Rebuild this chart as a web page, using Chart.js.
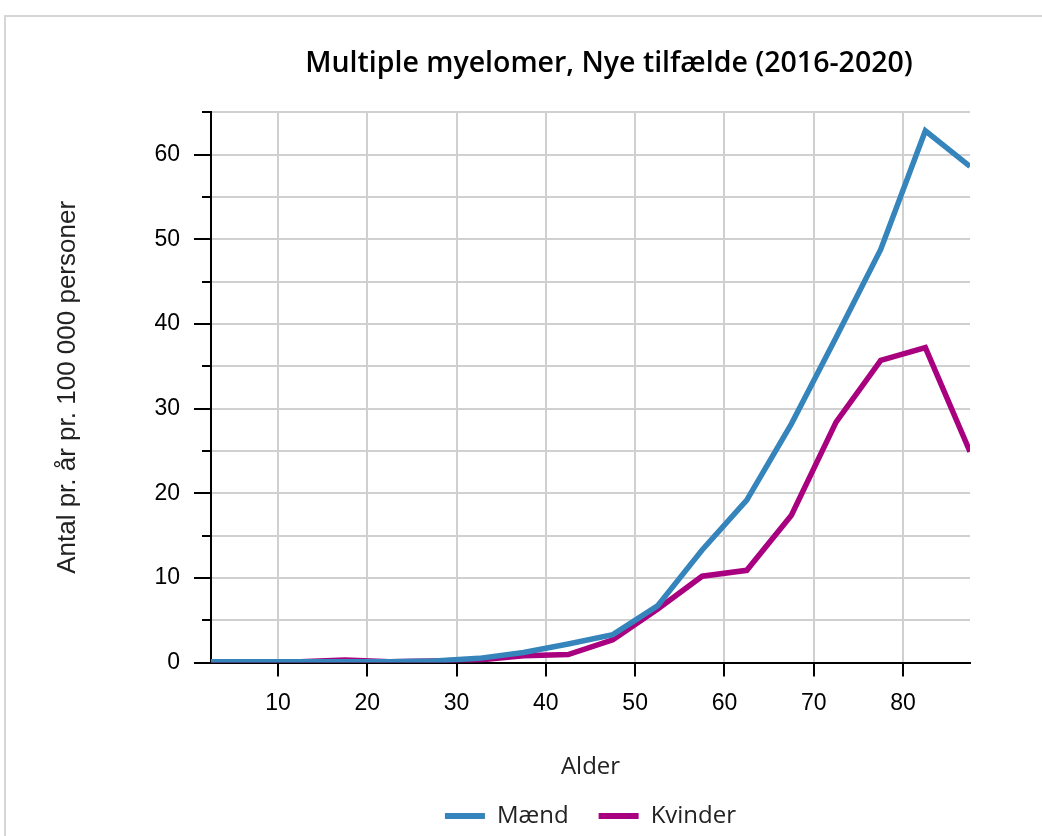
<!DOCTYPE html>
<html>
<head>
<meta charset="utf-8">
<script src="https://cdn.jsdelivr.net/npm/chart.js@4"></script>
<style>
  html, body { margin: 0; padding: 0; background: #fff; overflow: hidden; }
  #ramme {
    position: absolute; left: 4px; top: 15px;
    width: 1100px; height: 900px;
    border: 2px solid #d6d6d6;
  }
  #boks { position: absolute; left: 0; top: 0; width: 1036px; height: 821px; }
</style>
</head>
<body>
<div id="ramme">
  <div id="boks"><canvas id="telaGrafico"></canvas></div>
</div>
<script>
// Aldersgrupper (midtpunkt af 5-års grupper)
const alder = [2.5, 7.5, 12.5, 17.5, 22.5, 27.5, 32.5, 37.5, 42.5, 47.5, 52.5, 57.5, 62.5, 67.5, 72.5, 77.5, 82.5, 87.5];
// Antal pr. år pr. 100 000 personer
const maend = [0.1, 0.1, 0.1, 0.1, 0.1, 0.2, 0.5, 1.2, 2.2, 3.3, 6.7, 13.3, 19.2, 28.2, 38.4, 48.8, 62.8, 58.6];
const kvinder = [0.1, 0.1, 0.1, 0.3, 0.1, 0.2, 0.3, 0.8, 0.95, 2.7, 6.3, 10.2, 10.9, 17.4, 28.4, 35.7, 37.2, 24.9];
const xTicks = [10, 20, 30, 40, 50, 60, 70, 80];
const yTicks = [0, 10, 20, 30, 40, 50, 60];

const serier = [
    { navn: 'Mænd', data: maend, farve: '#3585bc' },
    { navn: 'Kvinder', data: kvinder, farve: '#a8007f' }
];

function punkter(vaerdier) {
    return alder.map(function (a, i) { return { x: a, y: vaerdier[i] }; });
}

const datasets = serier.map(function (s) {
    return {
        label: s.navn,
        data: punkter(s.data),
        borderColor: s.farve,
        backgroundColor: s.farve,
        borderWidth: 5.5,
        pointRadius: 0,
        tension: 0,
        clip: 0
    };
});

// flytter titlen lidt mod hoejre som i originalen
const titelPlugin = {
    id: 'titelPlugin',
    afterLayout: function (chart) {
        const t = chart.titleBlock;
        const midt = 603;
        const halv = (t.right - t.left) / 2;
        t.left = midt - halv;
        t.right = midt + halv;
    }
};

const config = {
    type: 'line',
    data: { datasets: datasets },
    plugins: [titelPlugin],
    options: {
        responsive: true,
        maintainAspectRatio: false,
        animation: false,
        layout: { padding: { left: 0, right: 72, top: 0, bottom: 0 } },
        plugins: {
            title: {
                display: true,
                text: 'Multiple myelomer, Nye tilfælde (2016-2020)',
                color: '#000',
                font: { family: 'Open Sans', size: 28.5, weight: '600' },
                padding: { top: 30, bottom: 31 }
            },
            legend: {
                position: 'bottom',
                fullSize: false,
                labels: {
                    color: '#222',
                    font: { family: 'Open Sans', size: 24 },
                    boxWidth: 40,
                    boxHeight: 6,
                    padding: 30,
                    generateLabels: function (chart) {
                        const items = Chart.defaults.plugins.legend.labels.generateLabels(chart);
                        items.forEach(function (it) { it.lineWidth = 0; it.fillStyle = it.strokeStyle; });
                        return items;
                    }
                }
            },
            tooltip: { enabled: false }
        },
        scales: {
            x: {
                type: 'linear',
                min: 2.5,
                max: 87.5,
                afterBuildTicks: function (scale) {
                    scale.ticks = xTicks.map(function (v) { return { value: v }; });
                },
                ticks: {
                    color: '#000',
                    font: { family: 'Liberation Sans', size: 23 },
                    padding: 13,
                    maxRotation: 0
                },
                grid: {
                    color: '#d0d0d0',
                    lineWidth: 2,
                    tickColor: '#000',
                    tickLength: 14,
                    tickWidth: 2
                },
                border: { color: '#000', width: 2 },
                title: {
                    display: true,
                    text: 'Alder',
                    color: '#222',
                    font: { family: 'Open Sans', size: 24 },
                    padding: { top: 23, bottom: -8 }
                }
            },
            y: {
                min: 0,
                max: 65,
                ticks: {
                    stepSize: 5,
                    color: '#000',
                    font: { family: 'Liberation Sans', size: 23 },
                    padding: 14,
                    callback: function (v) { return yTicks.indexOf(v) >= 0 ? v : ''; }
                },
                grid: {
                    color: '#d0d0d0',
                    lineWidth: 2,
                    tickColor: '#000',
                    tickLength: 17,
                    tickWidth: 2,
                    tickBorderDash: function (ctx) {
                        return yTicks.indexOf(ctx.tick.value) >= 0 ? [] : [9, 8];
                    },
                    tickBorderDashOffset: function (ctx) {
                        return yTicks.indexOf(ctx.tick.value) >= 0 ? 0 : 9;
                    }
                },
                border: { color: '#000', width: 2 },
                afterFit: function (scale) { scale.width = 205; },
                title: {
                    display: true,
                    text: 'Antal pr. år pr. 100 000 personer',
                    color: '#222',
                    font: { family: 'Liberation Sans', size: 26 },
                    padding: { top: 46, bottom: 0 }
                }
            }
        }
    }
};

let myChart = new Chart(document.getElementById('telaGrafico'), config);
</script>
</body>
</html>
